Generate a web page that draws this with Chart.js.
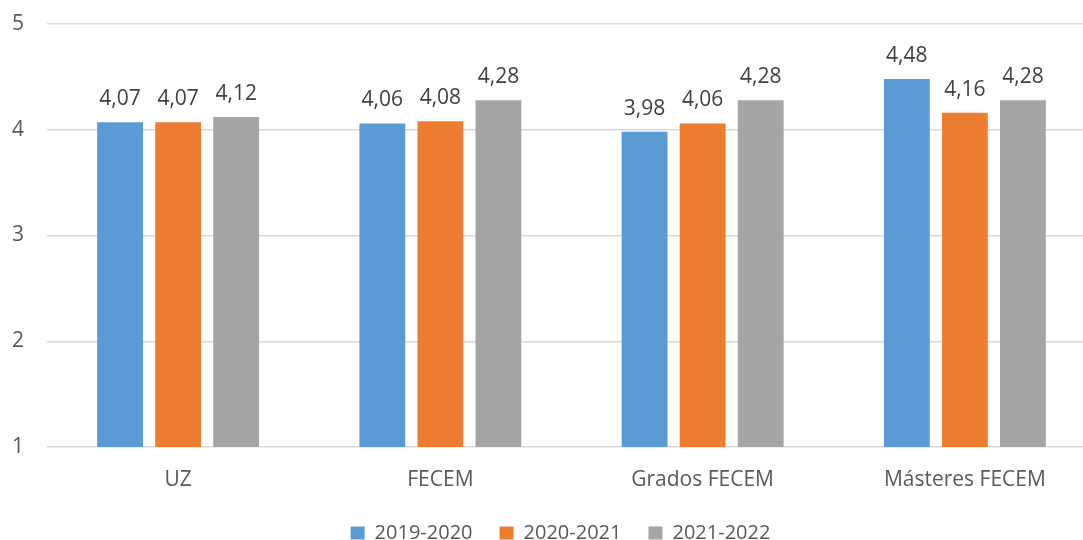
<!DOCTYPE html>
<html>
<head>
<meta charset="utf-8">
<script src="https://cdn.jsdelivr.net/npm/chart.js@4"></script>
<style>
  html, body { margin: 0; padding: 0; background: #fff; overflow: hidden; }
  #wrap { width: 1126px; height: 553px; }
</style>
</head>
<body>
<div id="wrap"><canvas id="c" width="1126" height="553"></canvas></div>
<script>
// data
const categories = ['UZ', 'FECEM', 'Grados FECEM', 'Másteres FECEM'];
const seriesNames = ['2019-2020', '2020-2021', '2021-2022'];
const values2019 = [4.07, 4.06, 3.98, 4.48];
const values2020 = [4.07, 4.08, 4.06, 4.16];
const values2021 = [4.12, 4.28, 4.28, 4.28];
const yTicks = [1, 2, 3, 4, 5];

const FONT = "'Open Sans', 'Liberation Sans', sans-serif";
const COLORS = ['#5b9bd5', '#ed7d31', '#a5a5a5'];

Chart.defaults.font.family = FONT;
Chart.defaults.font.size = 21;
Chart.defaults.color = '#595959';

// value labels above each bar, comma decimals
const barLabels = {
    id: 'barLabels',
    afterDatasetsDraw(chart) {
        const ctx = chart.ctx;
        ctx.save();
        ctx.font = '21px ' + FONT;
        ctx.fillStyle = '#404040';
        ctx.textAlign = 'center';
        ctx.textBaseline = 'alphabetic';
        chart.data.datasets.forEach((ds, i) => {
            chart.getDatasetMeta(i).data.forEach((bar, j) => {
                const txt = ds.data[j].toFixed(2).replace('.', ',');
                ctx.fillText(txt, bar.x, bar.y - 17);
            });
        });
        ctx.restore();
    }
};

const allSeries = [values2019, values2020, values2021];

new Chart(document.getElementById('c'), {
    type: 'bar',
    data: {
        labels: categories,
        datasets: allSeries.map((vals, i) => ({
            label: seriesNames[i],
            data: vals,
            backgroundColor: COLORS[i],
            borderWidth: 0,
            barPercentage: 0.79,
            categoryPercentage: 0.664
        }))
    },
    options: {
        responsive: false,
        animation: false,
        layout: { padding: { top: 24, right: 30, left: 25, bottom: 0 } },
        plugins: {
            legend: {
                position: 'bottom',
                labels: {
                    boxWidth: 14,
                    boxHeight: 13,
                    padding: 27,
                    font: { size: 20 },
                    color: '#595959'
                }
            },
            tooltip: { enabled: false }
        },
        scales: {
            y: {
                min: 1,
                max: 5,
                afterFit: (s) => {
                    s.width = 22;
                    s.paddingTop = 0;
                    s.paddingBottom = 0;
                },
                afterBuildTicks: (s) => { s.ticks = yTicks.map(v => ({ value: v })); },
                grid: { color: '#d9d9d9', lineWidth: 1.5, drawTicks: false },
                border: { display: false },
                // mirrored so the labels are not clipped to the narrow axis box
                ticks: { mirror: true, padding: -35, color: '#595959' }
            },
            x: {
                afterFit: (s) => { s.height = 49; },
                grid: { display: false, drawTicks: false },
                border: { display: false },
                ticks: { padding: 20, color: '#595959' }
            }
        }
    },
    plugins: [barLabels]
});
</script>
</body>
</html>
